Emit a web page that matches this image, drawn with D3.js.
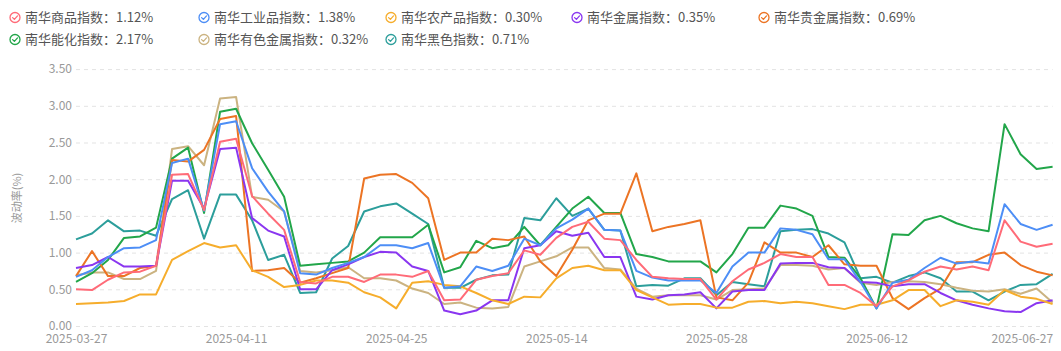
<!DOCTYPE html>
<html>
<head>
<meta charset="utf-8">
<script src="https://cdn.jsdelivr.net/npm/d3@7/dist/d3.min.js"></script>
<style>
html,body{margin:0;padding:0;background:#fff;}
svg{display:block;font-family:"Noto Sans CJK SC","Noto Sans",sans-serif;}
</style>
</head>
<body>
<svg id="chart" width="1061" height="351"></svg>
<script>
const dates = [
"2025-03-27","2025-03-28","2025-03-31","2025-04-01","2025-04-02","2025-04-03","2025-04-07","2025-04-08","2025-04-09","2025-04-10","2025-04-11",
"2025-04-14","2025-04-15","2025-04-16","2025-04-17","2025-04-18","2025-04-21","2025-04-22","2025-04-23","2025-04-24","2025-04-25",
"2025-04-28","2025-04-29","2025-04-30","2025-05-06","2025-05-07","2025-05-08","2025-05-09","2025-05-12","2025-05-13","2025-05-14",
"2025-05-15","2025-05-16","2025-05-19","2025-05-20","2025-05-21","2025-05-22","2025-05-23","2025-05-26","2025-05-27","2025-05-28",
"2025-05-29","2025-05-30","2025-06-03","2025-06-04","2025-06-05","2025-06-06","2025-06-09","2025-06-10","2025-06-11","2025-06-12",
"2025-06-13","2025-06-16","2025-06-17","2025-06-18","2025-06-19","2025-06-20","2025-06-23","2025-06-24","2025-06-25","2025-06-26","2025-06-27"
];
const tickDates = ["2025-03-27","2025-04-11","2025-04-25","2025-05-14","2025-05-28","2025-06-12","2025-06-27"];
const yTicks = [0,0.5,1,1.5,2,2.5,3,3.5];

const seriesNames = ["南华商品指数","南华工业品指数","南华农产品指数","南华金属指数","南华贵金属指数","南华能化指数","南华有色金属指数","南华黑色指数"];
const seriesColors = ["#ff6b78","#4d8ef6","#f6ad2c","#8a36f0","#ec7424","#22a64a","#cbb381","#2c9e9b"];

const commodity = [0.50,0.49,0.63,0.73,0.74,0.82,2.06,2.07,1.58,2.51,2.55,
1.77,1.53,1.31,0.60,0.58,0.67,0.67,0.60,0.70,0.70,
0.67,0.75,0.35,0.36,0.63,0.68,0.72,1.03,0.97,1.20,
1.35,1.42,1.19,1.17,0.90,0.67,0.65,0.64,0.64,0.36,
0.61,0.77,0.86,0.98,0.94,0.94,0.56,0.56,0.45,0.27,
0.54,0.62,0.74,0.81,0.77,0.81,0.76,1.44,1.15,1.08,1.12];
const industrial = [0.67,0.76,0.94,1.06,1.07,1.17,2.22,2.28,1.57,2.75,2.79,
2.15,1.83,1.56,0.72,0.70,0.79,0.86,0.94,1.10,1.10,
1.06,1.13,0.52,0.54,0.81,0.75,0.82,1.19,1.10,1.33,
1.45,1.60,1.31,1.30,0.75,0.66,0.62,0.62,0.62,0.45,
0.81,1.00,1.00,1.33,1.31,1.25,0.91,0.91,0.60,0.24,
0.59,0.63,0.79,0.93,0.85,0.88,0.85,1.66,1.39,1.31,1.38];
const agri = [0.30,0.31,0.32,0.34,0.43,0.43,0.90,1.02,1.13,1.07,1.10,
0.76,0.67,0.53,0.56,0.62,0.62,0.59,0.46,0.39,0.24,
0.59,0.61,0.56,0.54,0.45,0.35,0.30,0.40,0.39,0.65,
0.79,0.82,0.76,0.76,0.49,0.39,0.29,0.30,0.30,0.25,
0.25,0.33,0.34,0.31,0.33,0.31,0.27,0.23,0.29,0.29,
0.35,0.49,0.49,0.27,0.35,0.33,0.29,0.49,0.40,0.37,0.30];
const metals = [0.79,0.83,0.94,0.81,0.81,0.82,1.98,1.98,1.60,2.41,2.43,
1.47,1.30,1.22,0.50,0.50,0.76,0.84,0.94,1.01,1.00,
0.81,0.75,0.21,0.16,0.21,0.35,0.35,1.06,1.10,1.29,
1.23,1.27,0.94,0.94,0.40,0.36,0.42,0.43,0.46,0.24,
0.47,0.49,0.49,0.85,0.86,0.86,0.80,0.79,0.60,0.59,
0.54,0.57,0.57,0.45,0.35,0.29,0.24,0.20,0.19,0.31,0.35];
const precious = [0.68,1.02,0.68,0.68,0.79,0.82,2.26,2.24,2.40,2.82,2.86,
0.75,0.76,0.79,0.59,0.65,0.72,0.79,2.01,2.06,2.07,
1.95,1.74,0.90,1.00,1.00,1.19,1.17,1.22,0.88,0.68,
1.04,1.44,1.53,1.53,2.08,1.29,1.35,1.39,1.44,0.39,
0.35,0.59,1.14,1.00,1.00,0.94,1.10,0.84,0.82,0.82,
0.38,0.23,0.38,0.51,0.87,0.87,0.97,1.00,0.83,0.74,0.69];
const energy = [0.60,0.72,0.90,1.20,1.22,1.34,2.28,2.43,1.54,2.92,2.96,
2.49,2.13,1.76,0.82,0.84,0.86,0.88,1.00,1.21,1.21,
1.21,1.38,0.73,0.80,1.16,1.06,1.10,1.35,1.10,1.35,
1.60,1.76,1.54,1.54,0.98,0.94,0.88,0.88,0.88,0.73,
0.98,1.34,1.34,1.64,1.60,1.50,0.94,0.93,0.65,0.24,
1.25,1.24,1.44,1.50,1.40,1.33,1.29,2.75,2.34,2.14,2.17];
const nonferrous = [0.69,0.73,0.73,0.64,0.64,0.75,2.41,2.45,2.19,3.10,3.12,
1.76,1.72,1.56,0.75,0.73,0.76,0.80,0.65,0.65,0.62,
0.51,0.45,0.30,0.32,0.25,0.24,0.26,0.81,0.88,0.95,
1.07,1.07,0.79,0.77,0.51,0.40,0.42,0.42,0.42,0.36,
0.49,0.50,0.51,0.83,0.83,0.82,0.77,0.79,0.59,0.56,
0.60,0.61,0.60,0.57,0.52,0.48,0.47,0.50,0.44,0.51,0.32];
const ferrous = [1.18,1.26,1.44,1.29,1.30,1.23,1.73,1.85,1.19,1.79,1.79,
1.44,0.90,0.97,0.45,0.46,0.92,1.09,1.56,1.63,1.67,
1.53,1.39,0.52,0.52,0.63,0.69,0.70,1.47,1.44,1.74,
1.50,1.60,1.31,1.30,0.54,0.56,0.55,0.65,0.65,0.42,
0.60,0.57,0.54,1.29,1.31,1.32,1.26,1.14,0.65,0.67,
0.59,0.68,0.73,0.65,0.47,0.47,0.35,0.47,0.56,0.57,0.71];
const legendValues = ["1.12%","1.38%","0.30%","0.35%","0.69%","2.17%","0.32%","0.71%"];

const seriesData = [commodity, industrial, agri, metals, precious, energy, nonferrous, ferrous];

(function draw() {
const svg = d3.select("#chart");
const plotLeft = 76, plotRight = 1052.6, plotTop = 69.1, plotBottom = 326;
const x = d3.scalePoint().domain(dates).range([plotLeft, plotRight]);
const y = d3.scaleLinear().domain([0, 3.5]).range([plotBottom, plotTop]);

// grid
const grid = svg.append("g").attr("transform", `translate(${plotLeft},0)`)
  .call(d3.axisLeft(y).tickValues(yTicks).tickSize(-(plotRight - plotLeft)).tickFormat(""));
grid.select(".domain").remove();
grid.selectAll("line").attr("stroke", "#e3e3e3").attr("stroke-dasharray", "4,4");

// y axis labels
const yAxis = svg.append("g").attr("transform", `translate(${plotLeft},0)`)
  .call(d3.axisLeft(y).tickValues(yTicks).tickSize(0).tickPadding(4).tickFormat(d3.format(".2f")));
yAxis.select(".domain").remove();
yAxis.selectAll("text").attr("fill", "#999").attr("font-size", 12).attr("font-family", "'Noto Sans CJK SC', sans-serif");

// x axis labels
const xAxis = svg.append("g").attr("transform", `translate(0,${plotBottom})`)
  .call(d3.axisBottom(x).tickValues(tickDates).tickSize(0).tickPadding(8));
xAxis.select(".domain").remove();
xAxis.selectAll("text").attr("fill", "#999").attr("font-size", 12).attr("font-family", "'Noto Sans CJK SC', sans-serif")
  .attr("text-anchor", (d, i, n) => i === n.length - 1 ? "end" : "middle");

// y title
svg.append("text").attr("transform", "translate(21,198) rotate(-90)")
  .attr("text-anchor", "middle").attr("fill", "#999").attr("font-size", 11)
  .text("波动率(%)");

// lines
const line = d3.line().x((d, i) => x(dates[i])).y(d => y(d));
const drawOrder = [7, 6, 5, 4, 3, 2, 1, 0];
drawOrder.forEach(k => {
  svg.append("path").datum(seriesData[k])
    .attr("fill", "none").attr("stroke", seriesColors[k]).attr("stroke-width", 2)
    .attr("stroke-linejoin", "round").attr("d", line);
});

// legend
const legendPos = [[15,17.5],[204,17.5],[391,17.5],[577,17.5],[764,17.5],[15,39.5],[204,39.5],[391,39.5]];
seriesNames.forEach((name, k) => {
  const [cx, cy] = legendPos[k];
  const g = svg.append("g").attr("transform", `translate(${cx},${cy})`);
  g.append("circle").attr("r", 5).attr("fill", "#fff").attr("stroke", seriesColors[k]).attr("stroke-width", 1.3);
  g.append("path").attr("d", "M-2.4,0.1 L-0.6,1.9 L2.5,-1.6").attr("fill", "none")
    .attr("stroke", seriesColors[k]).attr("stroke-width", 1.3).attr("stroke-linecap", "round").attr("stroke-linejoin", "round");
  g.append("text").attr("x", 10).attr("y", 0).attr("dy", "0.35em")
    .attr("fill", "#555").attr("font-size", 13)
    .text(name + "：" + legendValues[k]);
});
})();
</script>
</body>
</html>
